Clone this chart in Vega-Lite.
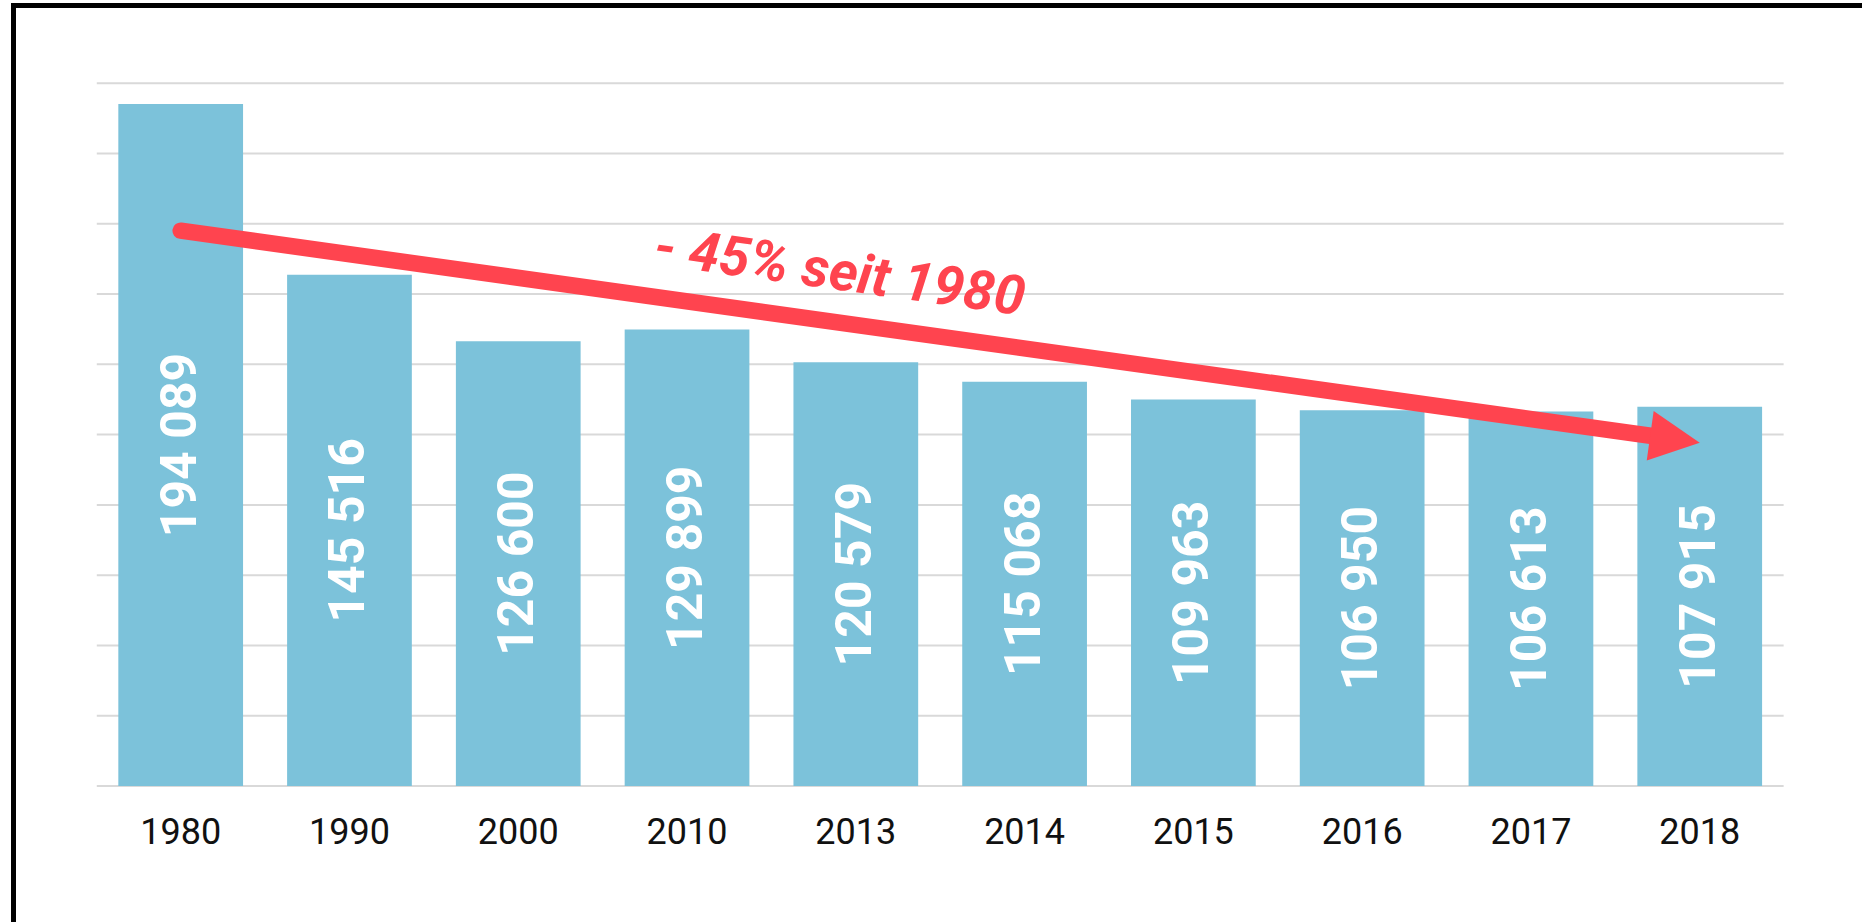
{
  "$schema": "https://vega.github.io/schema/vega-lite/v6.json",
  "width": 1848.5,
  "height": 916.5,
  "autosize": {"type": "none"},
  "padding": {"left": 13.5, "top": 5.5, "right": 0, "bottom": 0},
  "background": "#ffffff",
  "config": {
    "font": "Roboto",
    "locale": {"number": {"decimal": ",", "thousands": " ", "grouping": [3], "currency": ["", " €"]}},
    "view": {"stroke": "#000000", "strokeWidth": 5, "strokeDash": [1848.5, 2765, 916.5]},
    "axisX": {
      "domain": false, "ticks": false, "tickSize": 0, "grid": false,
      "labelFont": "Roboto", "labelFontSize": 36, "labelColor": "#111111",
      "labelBaseline": "alphabetic", "labelPadding": 0, "offset": -78.7, "labelAngle": 0
    }
  },
  "datasets": {
    "years": [
      {"year": "1980", "v": 194089},
      {"year": "1990", "v": 145516},
      {"year": "2000", "v": 126600},
      {"year": "2010", "v": 129899},
      {"year": "2013", "v": 120579},
      {"year": "2014", "v": 115068},
      {"year": "2015", "v": 109963},
      {"year": "2016", "v": 106950},
      {"year": "2017", "v": 106613},
      {"year": "2018", "v": 107915}
    ],
    "grid": [
      {"g": 0}, {"g": 20000}, {"g": 40000}, {"g": 60000}, {"g": 80000}, {"g": 100000},
      {"g": 120000}, {"g": 140000}, {"g": 160000}, {"g": 180000}, {"g": 200000}
    ],
    "arrow": [{"from": "1980", "to": "2018", "v0": 158035, "v1": 98882, "tip": 97700}],
    "note": [{"year": "2013", "v": 145395, "label": "- 45% seit 1980"}]
  },
  "resolve": {"scale": {"y": "independent"}},
  "layer": [
    {
      "data": {"name": "grid"},
      "mark": {"type": "rule", "color": "#d9d9d9", "strokeWidth": 2, "xOffset": -83.9, "x2Offset": 83.9},
      "encoding": {
        "x": {"datum": "1980", "type": "nominal", "title": null},
        "x2": {"datum": "2018"},
        "y": {"field": "g", "type": "quantitative", "scale": {"domain": [-38704, 222122], "nice": false}, "axis": null}
      }
    },
    {
      "data": {"name": "years"},
      "mark": {"type": "bar", "color": "#7cc2da"},
      "encoding": {
        "x": {
          "field": "year", "type": "nominal", "title": null,
          "scale": {
            "type": "band",
            "domain": ["1980", "1990", "2000", "2010", "2013", "2014", "2015", "2016", "2017", "2018"],
            "paddingInner": 0.261, "paddingOuter": 0.6065, "align": 0.512, "round": false
          }
        },
        "y": {"field": "v", "type": "quantitative", "scale": {"domain": [-38704, 222122], "nice": false}, "axis": null},
        "y2": {"datum": 0}
      }
    },
    {
      "data": {"name": "years"},
      "mark": {"type": "text", "angle": 270, "align": "center", "baseline": "middle", "fontSize": 50, "fontWeight": "bold", "color": "#ffffff", "font": "Roboto"},
      "encoding": {
        "x": {"field": "year", "type": "nominal", "title": null},
        "y": {"field": "v", "type": "quantitative", "scale": {"domain": [-77408, 444244], "nice": false}, "axis": null},
        "text": {"field": "v", "type": "quantitative", "format": ","}
      }
    },
    {
      "data": {"name": "arrow"},
      "mark": {"type": "rule", "color": "#ff444f", "strokeWidth": 16.5, "strokeCap": "round", "x2Offset": -29.5},
      "encoding": {
        "x": {"field": "from", "type": "nominal", "title": null},
        "x2": {"field": "to"},
        "y": {"field": "v0", "type": "quantitative", "scale": {"domain": [-38704, 222122], "nice": false}, "axis": null},
        "y2": {"field": "v1"}
      }
    },
    {
      "data": {"name": "arrow"},
      "mark": {"type": "point", "shape": "M0,0L-2,-1L-2,1Z", "size": 2500, "angle": 7.95, "filled": true, "color": "#ff444f", "opacity": 1, "strokeWidth": 0},
      "encoding": {
        "x": {"field": "to", "type": "nominal", "title": null},
        "y": {"field": "tip", "type": "quantitative", "scale": {"domain": [-38704, 222122], "nice": false}, "axis": null}
      }
    },
    {
      "data": {"name": "note"},
      "mark": {"type": "text", "angle": 7.95, "align": "center", "baseline": "middle", "fontSize": 55, "fontWeight": "bold", "fontStyle": "italic", "color": "#ff444f", "dx": -16.4, "font": "Roboto"},
      "encoding": {
        "x": {"field": "year", "type": "nominal", "title": null},
        "y": {"field": "v", "type": "quantitative", "scale": {"domain": [-38704, 222122], "nice": false}, "axis": null},
        "text": {"field": "label"}
      }
    }
  ]
}
